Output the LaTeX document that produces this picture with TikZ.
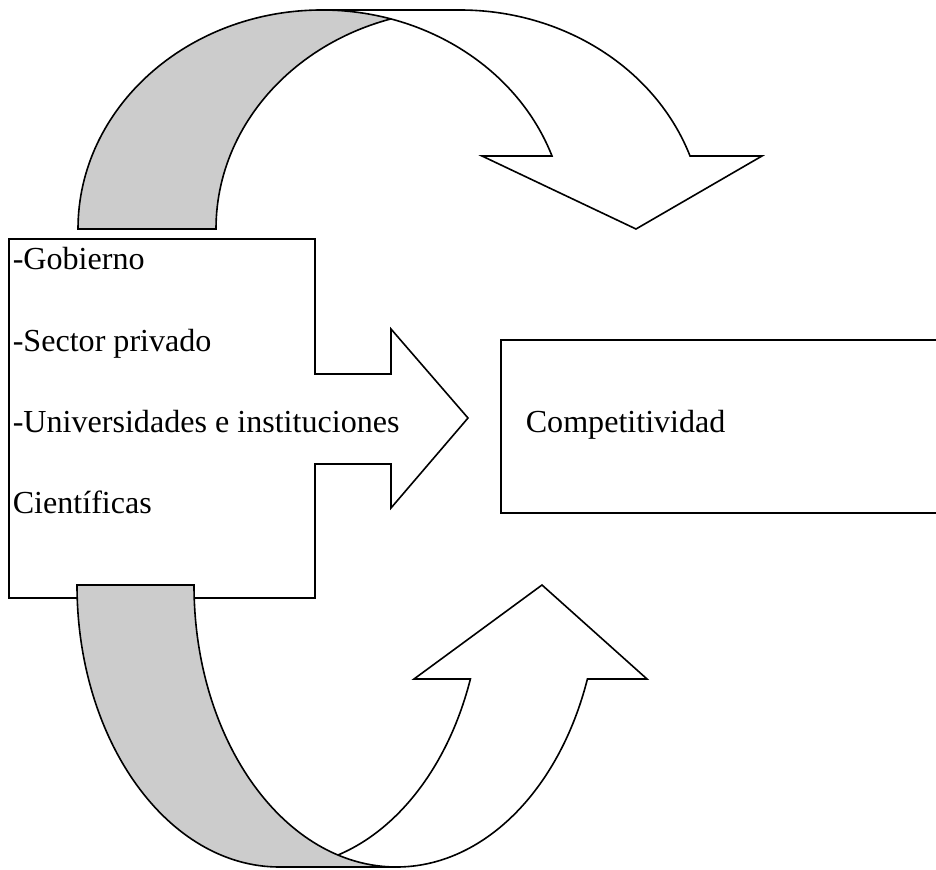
\documentclass[tikz,border=0pt]{standalone}
\usepackage{fontspec}
\setmainfont{Liberation Serif}
\definecolor{shade}{RGB}{204,204,204}
\begin{document}
\begin{tikzpicture}[x=0.374pt, y=0.374pt, line width=0.6pt,
  band/.style={draw=black, fill=shade},
  face/.style={draw=black, fill=white},
  item/.style={anchor=base west, inner sep=0pt, font=\fontsize{12}{14}\selectfont}]
\useasboundingbox (0,0) rectangle (936,869);

\draw[face] (9,630) -- (315,630) -- (315,495) -- (391,495) -- (391,540) -- (468,451) -- (391,361) -- (391,405) -- (315,405) -- (315,271) -- (9,271) -- cycle;
\draw (945,529) -- (501,529) -- (501,356) -- (945,356);

\node (gob) at (12,600) [item] {-Gobierno};
\node (priv) at (12,518) [item] {-Sector privado};
\node (univ) at (12,437) [item] {-Universidades e instituciones};
\node (cien) at (12,356) [item] {Científicas};
\node (comp) at (525,437) [item] {Competitividad};

\draw[band] (78,640) arc[start angle=180, end angle=90, x radius=244, y radius=219] -- (460,859) arc[start angle=90, end angle=180, x radius=244, y radius=219] -- cycle;
\draw[face] (322,859) -- (460,859) arc[start angle=90, end angle=19.47, x radius=244, y radius=219] -- (762,713) -- (636,640) -- (482,713) -- (552,713) arc[start angle=19.47, end angle=90, x radius=244, y radius=219] -- cycle;

\draw[face] (279.5,2) -- (396.5,2) arc[start angle=270, end angle=340.53, x radius=202.5, y radius=282] -- (647,190) -- (542,284) -- (414,190) -- (470.4,190) arc[start angle=340.53, end angle=270, x radius=202.5, y radius=282] -- cycle;
\draw[band] (77,284) arc[start angle=180, end angle=270, x radius=202.5, y radius=282] -- (396.5,2) arc[start angle=270, end angle=180, x radius=202.5, y radius=282] -- cycle;
\end{tikzpicture}
\end{document}
